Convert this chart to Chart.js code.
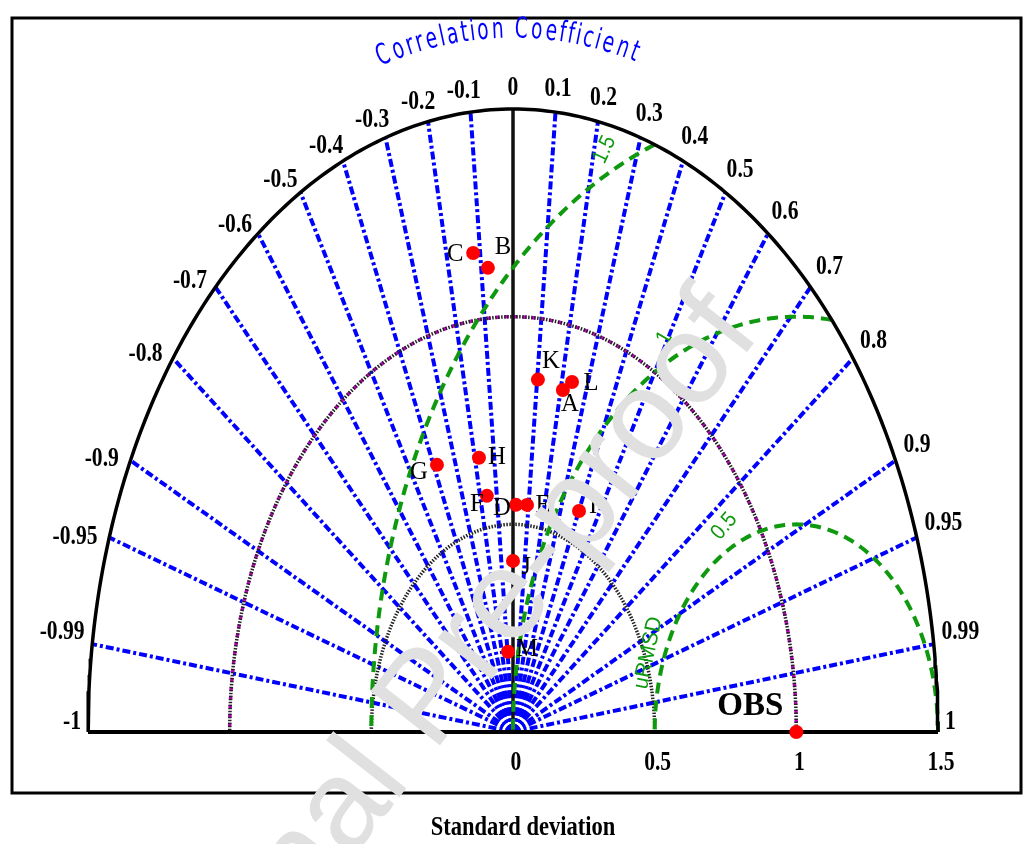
<!DOCTYPE html>
<html>
<head>
<meta charset="utf-8">
<title>Taylor diagram</title>
<script src="https://cdn.jsdelivr.net/npm/chart.js@4.4.1/dist/chart.umd.min.js"></script>
<style>
html,body{margin:0;padding:0;background:#fff;}
canvas{display:block;}
</style>
</head>
<body>
<canvas id="taylor" width="1031" height="844"></canvas>
<script>
// models: normalised standard deviation and correlation with OBS
const models = ['A','B','C','D','E','F','G','H','I','J','K','L','M'];
const stdDev = [0.842, 1.121, 1.162, 0.547, 0.549, 0.576, 0.697, 0.671, 0.581, 0.412, 0.853, 0.868, 0.194];
const corr   = [0.209, -0.079, -0.121, 0.019, 0.090, -0.160, -0.385, -0.179, 0.401, 0.000, 0.103, 0.240, -0.091];
const obsStd = 1;
const obsCorr = 1;

// grid of the diagram
const corrTicks = [-1,-0.99,-0.95,-0.9,-0.8,-0.7,-0.6,-0.5,-0.4,-0.3,-0.2,-0.1,0,0.1,0.2,0.3,0.4,0.5,0.6,0.7,0.8,0.9,0.95,0.99,1];
const stdTicks = [0, 0.5, 1, 1.5];
const stdCircles = [0.5, 1];
const rmsCircles = [0.5, 1, 1.5];
const stdMax = 1.5;

// where each letter sits next to its dot (px)
const labelOffset = {A:[7,14],B:[15,-21],C:[-18,1],D:[-14,3],E:[16,0],F:[-10,8],G:[-18,7],H:[18,-1],I:[14,-5],J:[13,6],K:[13,-18],L:[19,1],M:[19,-3]};
// rotation of the green uRMSD labels (deg)
const rmsLabelRot = [-50, -60, -65];

const BLUE = '#0000ff';
const GREEN = '#0e990e';

function polar(s, r){
	return {x: s*r, y: s*Math.sqrt(Math.max(0, 1 - r*r))};
}
function arc(cx, rad, a0, a1, n){
	const pts = [];
	for(let i = 0; i <= n; i++){
		const a = a0 + (a1 - a0)*i/n;
		pts.push({x: cx + rad*Math.cos(a), y: rad*Math.sin(a)});
	}
	return pts;
}
function line(data, color, width, dash, order){
	return {type:'scatter', data: data, showLine:true, borderColor: color, borderWidth: width,
		borderDash: dash || [], pointRadius:0, pointHoverRadius:0, fill:false, tension:0, clip:false, order: order};
}

const datasets = [];

// model points + OBS
const pts = models.map((m, i) => Object.assign(polar(stdDev[i], corr[i]), {name: m}));
pts.push(Object.assign(polar(obsStd, obsCorr), {name: 'OBS'}));
datasets.push({type:'scatter', data: pts, pointRadius:7, pointHoverRadius:7, pointBackgroundColor:'#ff0000',
	pointBorderWidth:0, showLine:false, clip:false, order:0});

// correlation rays
corrTicks.forEach(r => {
	if(Math.abs(r) === 1) return;
	if(r === 0) datasets.push(line([{x:0,y:0}, polar(stdMax, 0)], '#111', 3.5, [], 2));
	else datasets.push(line([{x:0,y:0}, polar(stdMax, r)], BLUE, 4, [8,3,3,3], 4));
});

// standard deviation circles
stdCircles.forEach(s => {
	datasets.push(line(arc(0, s, 0, Math.PI, 180), '#222', 3.5, [1.5,1.5], 3));
	if(s === 1) datasets.push(line(arc(0, s, 0, Math.PI, 180), '#d000d0', 3.5, [4,5], 3));
});

// outer arc and base axis
datasets.push(line(arc(0, stdMax, 0, Math.PI, 240), '#000', 3.5, [], 1));
datasets.push(line([{x:-stdMax,y:0},{x:stdMax,y:0}], '#000', 4, [], 1));

// centred RMS difference arcs around OBS
rmsCircles.forEach(R => {
	let a0 = 0;
	if(obsStd + R > stdMax){
		const xi = (obsStd*obsStd + stdMax*stdMax - R*R)/(2*obsStd);
		const yi = Math.sqrt(stdMax*stdMax - xi*xi);
		a0 = Math.atan2(yi, xi - obsStd);
	}
	datasets.push(line(arc(obsStd, R, a0, Math.PI, 150), GREEN, 4, [11,7], 1));
});

function txt(ctx, str, x, y, o){
	ctx.save();
	ctx.translate(x, y);
	if(o.rot) ctx.rotate(o.rot);
	ctx.scale(o.sx || 1, o.sy || 1);
	ctx.font = o.font;
	ctx.fillStyle = o.color || '#000';
	ctx.textAlign = o.align || 'center';
	ctx.textBaseline = o.base || 'middle';
	ctx.fillText(str, 0, 0);
	ctx.restore();
}

const textPlugin = {
	id: 'taylorText',
	afterDraw(chart){
		const ctx = chart.ctx;
		const X = chart.scales.x, Y = chart.scales.y;
		const px = v => X.getPixelForValue(v), py = v => Y.getPixelForValue(v);
		const sx = px(1) - px(0), sy = py(0) - py(1);

		// frame
		ctx.save();
		ctx.strokeStyle = '#000';
		ctx.lineWidth = 3;
		ctx.strokeRect(12, 18, 1009, 775);
		ctx.restore();

		// correlation labels, pushed out along the normal of the outer arc
		const tickFont = 'bold 27px "Liberation Serif"';
		const tsx = 0.8;
		const a = sx*stdMax, b = sy*stdMax;
		corrTicks.forEach(r => {
			const s = Math.sqrt(Math.max(0, 1 - r*r));
			const p = polar(stdMax, r);
			let nx = r/a, ny = -s/b;
			const nl = Math.hypot(nx, ny); nx /= nl; ny /= nl;
			ctx.save(); ctx.font = tickFont;
			const w = ctx.measureText(String(r)).width*tsx;
			ctx.restore();
			const d = 7 + Math.abs(nx)*w/2 + Math.abs(ny)*9;
			let xShift = 0, yShift = -5 - 5*(1 - s);
			// left half labels sit a little lower in the original
			if(r < 0 && r > -0.99){ yShift += 15*Math.min(1, -r/0.6); xShift -= 4; }
			txt(ctx, String(r), px(p.x) + d*nx + xShift, py(p.y) + d*ny + yShift, {font: tickFont, sx: tsx});
		});

		// arched title
		const title = 'Correlation Coefficient';
		const tFont = '29px "DejaVu Sans"';
		const cs = 0.64;
		ctx.save();
		ctx.font = tFont;
		const widths = title.split('').map(c => ctx.measureText(c).width*cs);
		ctx.restore();
		const R = 1.69;
		const aFirst = 105.7*Math.PI/180, aLast = 75.3*Math.PI/180;
		const inner = widths.reduce((p,q)=>p+q,0) - widths[0]/2 - widths[widths.length-1]/2;
		let acc = 0;
		title.split('').forEach((c, i) => {
			if(i > 0) acc += (widths[i-1] + widths[i])/2;
			const ang = aFirst + (aLast - aFirst)*acc/inner;
			const x = px(R*Math.cos(ang)), y = py(R*Math.sin(ang));
			const rot = Math.atan2(Math.cos(ang)*sy, Math.sin(ang)*sx);
			txt(ctx, c, x, y, {font: tFont, sx: cs, rot: rot, color: BLUE});
		});

		// standard deviation ticks + title
		stdTicks.forEach(s => {
			txt(ctx, String(s), px(s) + 3, py(0) + 31, {font: tickFont, sx: tsx});
		});
		txt(ctx, 'Standard deviation', 523, 828, {font:'bold 23px "Liberation Serif"', sx: 0.98, sy: 1.2});

		// model letters
		const meta = chart.getDatasetMeta(0);
		meta.data.forEach((el, i) => {
			const name = pts[i].name;
			if(name === 'OBS'){
				txt(ctx, 'OBS', el.x - 46, el.y - 26, {font:'bold 33px "Liberation Serif"'});
				return;
			}
			const off = labelOffset[name];
			txt(ctx, name, el.x + off[0], el.y + off[1], {font:'26px "Liberation Serif"', sx: 0.95});
		});

		// uRMSD labels
		rmsCircles.forEach((Rr, i) => {
			const ang = 115*Math.PI/180;
			const x = obsStd + (Rr + 0.06)*Math.cos(ang), y = (Rr + 0.06)*Math.sin(ang);
			txt(ctx, String(Rr), px(x) - 5, py(y) + 5, {font:'22px "Liberation Sans"', color: GREEN, rot: rmsLabelRot[i]*Math.PI/180, sx: 0.9});
		});
		{
			const ang = 160*Math.PI/180;
			const x = obsStd + 0.556*Math.cos(ang), y = 0.556*Math.sin(ang);
			txt(ctx, 'uRMSD', px(x), py(y), {font:'22px "Liberation Sans"', color: GREEN, rot: -78*Math.PI/180, sx: 0.95});
		}

		// watermark
		txt(ctx, 'Journal Pre-proof', 762, 333, {font:'128px "Liberation Sans"', color:'#e0e0e0',
			rot: -52*Math.PI/180, align:'right', base:'alphabetic'});
	}
};

new Chart(document.getElementById('taylor'), {
	type: 'scatter',
	data: {datasets: datasets},
	options: {
		responsive: false,
		animation: false,
		devicePixelRatio: 1,
		layout: {padding: {left: 88, right: 93, top: 109, bottom: 112}},
		scales: {
			x: {type:'linear', min: -stdMax, max: stdMax, display: false},
			y: {type:'linear', min: 0, max: stdMax, display: false}
		},
		plugins: {legend: {display: false}, tooltip: {enabled: false}}
	},
	plugins: [textPlugin]
});
</script>
</body>
</html>
